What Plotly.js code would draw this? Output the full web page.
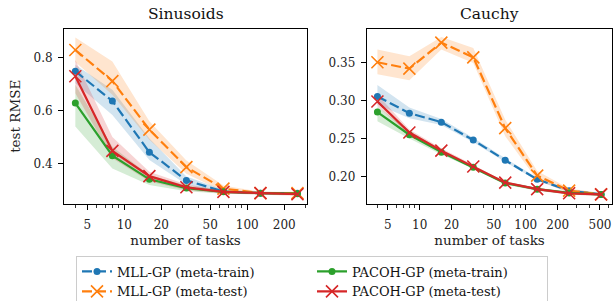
<!DOCTYPE html>
<html>
<head>
<meta charset="utf-8">
<script src="https://cdn.plot.ly/plotly-3.0.1.min.js"></script>
<style>html,body{margin:0;padding:0;background:#fff;}#chart{width:615px;height:301px;}</style>
</head>
<body>
<div id="chart"></div>
<script>
// ---- data ----
const tasksSin = [4, 8, 16, 32, 64, 128, 256];
const tasksCau = [4, 8, 16, 32, 64, 128, 256, 512];

// Sinusoids
const sinMllTrain   = [0.748, 0.636, 0.443, 0.337, 0.295, 0.289, 0.289];
const sinMllTrainLo = [0.703, 0.583, 0.414, 0.322, 0.288, 0.285, 0.285];
const sinMllTrainHi = [0.772, 0.678, 0.495, 0.352, 0.302, 0.293, 0.293];
const sinMllTest    = [0.828, 0.711, 0.528, 0.387, 0.306, 0.289, 0.289];
const sinMllTestLo  = [0.783, 0.659, 0.490, 0.362, 0.295, 0.284, 0.284];
const sinMllTestHi  = [0.875, 0.785, 0.560, 0.412, 0.318, 0.294, 0.294];
const sinPacTrain   = [0.628, 0.430, 0.341, 0.308, 0.294, 0.289, 0.287];
const sinPacTrainLo = [0.540, 0.382, 0.320, 0.296, 0.287, 0.284, 0.282];
const sinPacTrainHi = [0.697, 0.464, 0.356, 0.318, 0.300, 0.294, 0.292];
const sinPacTest    = [0.729, 0.448, 0.353, 0.311, 0.294, 0.289, 0.285];
const sinPacTestLo  = [0.665, 0.420, 0.333, 0.300, 0.288, 0.284, 0.279];
const sinPacTestHi  = [0.790, 0.500, 0.370, 0.322, 0.300, 0.294, 0.291];

// Cauchy
const cauMllTrain   = [0.3057, 0.2836, 0.2717, 0.248, 0.2212, 0.196, 0.181, 0.176];
const cauMllTrainLo = [0.295, 0.277, 0.268, 0.245, 0.219, 0.194, 0.179, 0.174];
const cauMllTrainHi = [0.321, 0.291, 0.276, 0.251, 0.224, 0.198, 0.183, 0.178];
const cauMllTest    = [0.351, 0.3425, 0.377, 0.3575, 0.2637, 0.2009, 0.181, 0.176];
const cauMllTestLo  = [0.335, 0.327, 0.368, 0.350, 0.253, 0.195, 0.178, 0.174];
const cauMllTestHi  = [0.368, 0.359, 0.3845, 0.370, 0.275, 0.207, 0.184, 0.178];
const cauPacTrain   = [0.285, 0.255, 0.232, 0.212, 0.191, 0.183, 0.178, 0.176];
const cauPacTrainLo = [0.273, 0.250, 0.229, 0.210, 0.189, 0.181, 0.176, 0.174];
const cauPacTrainHi = [0.2925, 0.260, 0.235, 0.214, 0.193, 0.185, 0.180, 0.178];
const cauPacTest    = [0.299, 0.258, 0.234, 0.213, 0.1916, 0.183, 0.1775, 0.176];
const cauPacTestLo  = [0.293, 0.255, 0.231, 0.211, 0.190, 0.181, 0.176, 0.174];
const cauPacTestHi  = [0.308, 0.262, 0.237, 0.215, 0.193, 0.185, 0.179, 0.178];

const xTickVals = [5, 10, 20, 50, 100, 200, 500];
const xTickText = ['5', '10', '20', '50', '100', '200', '500'];
const xMinorVals = [3, 4, 6, 7, 8, 9, 30, 40, 60, 70, 80, 90, 300, 400, 600];
const names = ['MLL-GP (meta-train)', 'MLL-GP (meta-test)', 'PACOH-GP (meta-train)', 'PACOH-GP (meta-test)'];

// ---- styles ----
const C = {blue: '#1f77b4', orange: '#ff7f0e', green: '#2ca02c', red: '#d62728'};
const FILL = {blue: 'rgba(31,119,180,0.2)', orange: 'rgba(255,127,14,0.2)', green: 'rgba(44,160,44,0.2)', red: 'rgba(214,39,40,0.2)'};
const FONT = 'DejaVu Serif';

function band(x, lo, hi, col, xa, ya) {
  return [
    {x: x, y: lo, xaxis: xa, yaxis: ya, mode: 'lines', line: {width: 0, color: 'rgba(0,0,0,0)'}, showlegend: false, hoverinfo: 'skip', type: 'scatter'},
    {x: x, y: hi, xaxis: xa, yaxis: ya, mode: 'lines', line: {width: 0, color: 'rgba(0,0,0,0)'}, fill: 'tonexty', fillcolor: FILL[col], showlegend: false, hoverinfo: 'skip', type: 'scatter'}
  ];
}
function line(x, y, col, kind, name, xa, ya, showleg, rank) {
  const dashed = (col === 'blue' || col === 'orange');
  const marker = (kind === 'dot')
    ? {symbol: 'circle', size: 7, color: C[col]}
    : {symbol: 'x-thin', size: 12, color: C[col], line: {width: 1.6, color: C[col]}};
  return {x: x, y: y, xaxis: xa, yaxis: ya, type: 'scatter', mode: 'lines+markers', name: name,
    line: {color: C[col], width: 2.2, dash: dashed ? '10px,4px' : 'solid'},
    marker: marker, showlegend: showleg, legendrank: rank, legendgroup: name};
}

const traces = [];
// left
traces.push(...band(tasksSin, sinMllTrainLo, sinMllTrainHi, 'blue', 'x', 'y'));
traces.push(...band(tasksSin, sinMllTestLo, sinMllTestHi, 'orange', 'x', 'y'));
traces.push(...band(tasksSin, sinPacTrainLo, sinPacTrainHi, 'green', 'x', 'y'));
traces.push(...band(tasksSin, sinPacTestLo, sinPacTestHi, 'red', 'x', 'y'));
traces.push(line(tasksSin, sinMllTrain, 'blue', 'dot', names[0], 'x', 'y', true, 1));
traces.push(line(tasksSin, sinMllTest, 'orange', 'x', names[1], 'x', 'y', true, 3));
traces.push(line(tasksSin, sinPacTrain, 'green', 'dot', names[2], 'x', 'y', true, 2));
traces.push(line(tasksSin, sinPacTest, 'red', 'x', names[3], 'x', 'y', true, 4));
// right
traces.push(...band(tasksCau, cauMllTrainLo, cauMllTrainHi, 'blue', 'x2', 'y2'));
traces.push(...band(tasksCau, cauMllTestLo, cauMllTestHi, 'orange', 'x2', 'y2'));
traces.push(...band(tasksCau, cauPacTrainLo, cauPacTrainHi, 'green', 'x2', 'y2'));
traces.push(...band(tasksCau, cauPacTestLo, cauPacTestHi, 'red', 'x2', 'y2'));
traces.push(line(tasksCau, cauMllTrain, 'blue', 'dot', names[0], 'x2', 'y2', false, 1));
traces.push(line(tasksCau, cauMllTest, 'orange', 'x', names[1], 'x2', 'y2', false, 3));
traces.push(line(tasksCau, cauPacTrain, 'green', 'dot', names[2], 'x2', 'y2', false, 2));
traces.push(line(tasksCau, cauPacTest, 'red', 'x', names[3], 'x2', 'y2', false, 4));

function xaxis(dom, range, anchor) {
  return {type: 'log', domain: dom, range: range, anchor: anchor,
    tickmode: 'array', tickvals: xTickVals, ticktext: xTickText,
    ticks: 'outside', ticklen: 5, tickwidth: 1, tickcolor: '#000', ticklabelstandoff: 5,
    minor: {tickmode: 'array', tickvals: xMinorVals, ticks: 'outside', ticklen: 3, tickwidth: 0.8, tickcolor: '#000', showgrid: false},
    showline: true, linecolor: '#000', linewidth: 1, mirror: true, showgrid: false, zeroline: false,
    tickfont: {family: FONT, size: 12, color: '#222'},
    title: {text: 'number of tasks', font: {family: FONT, size: 13.5, color: '#222'}, standoff: 3}};
}
function yaxis(dom, range, anchor, tv, tt, title) {
  return {domain: dom, range: range, anchor: anchor,
    tickmode: 'array', tickvals: tv, ticktext: tt,
    ticks: 'outside', ticklen: 5, tickwidth: 1, tickcolor: '#000', ticklabelstandoff: 3,
    showline: true, linecolor: '#000', linewidth: 1, mirror: true, showgrid: false, zeroline: false,
    tickfont: {family: FONT, size: 12, color: '#222'},
    title: title ? {text: title, font: {family: FONT, size: 13.5, color: '#222'}, standoff: 9} : {text: ''}};
}

const yDom = [1 - 203.5 / 301, 1 - 29 / 301];
const layout = {
  width: 615, height: 301,
  margin: {l: 0, r: 0, t: 0, b: 0, autoexpand: false},
  paper_bgcolor: '#fff', plot_bgcolor: '#fff',
  showlegend: true,
  xaxis: xaxis([64 / 615, 307 / 615], [Math.log10(3.235), Math.log10(306)], 'y'),
  yaxis: yaxis(yDom, [0.25, 0.907], 'x', [0.4, 0.6, 0.8], ['0.4', '0.6', '0.8'], 'test RMSE'),
  xaxis2: xaxis([366.7 / 615, 612.3 / 615], [Math.log10(3.17), Math.log10(653)], 'y2'),
  yaxis2: yaxis(yDom, [0.164, 0.395], 'x2', [0.20, 0.25, 0.30, 0.35], ['0.20', '0.25', '0.30', '0.35'], null),
  annotations: [
    {text: 'Sinusoids', xref: 'paper', yref: 'paper', x: (64 + 307) / 2 / 615, y: 1 - 14 / 301, xanchor: 'center', yanchor: 'middle', showarrow: false, font: {family: FONT, size: 15.5, color: '#111'}},
    {text: 'Cauchy', xref: 'paper', yref: 'paper', x: (366.7 + 612.3) / 2 / 615, y: 1 - 14 / 301, xanchor: 'center', yanchor: 'middle', showarrow: false, font: {family: FONT, size: 15.5, color: '#111'}}
  ],
  legend: {orientation: 'h', xref: 'container', yref: 'container', x: 312 / 615, xanchor: 'center', y: 1 - 255.5 / 301, yanchor: 'top',
    entrywidth: 190, entrywidthmode: 'pixels', traceorder: 'normal',
    bgcolor: 'rgba(255,255,255,0.8)', bordercolor: '#cccccc', borderwidth: 1,
    font: {family: FONT, size: 13, color: '#111'}, tracegroupgap: 0, itemwidth: 30}
};

Plotly.newPlot('chart', traces, layout, {displayModeBar: false, staticPlot: true});
</script>
</body>
</html>
